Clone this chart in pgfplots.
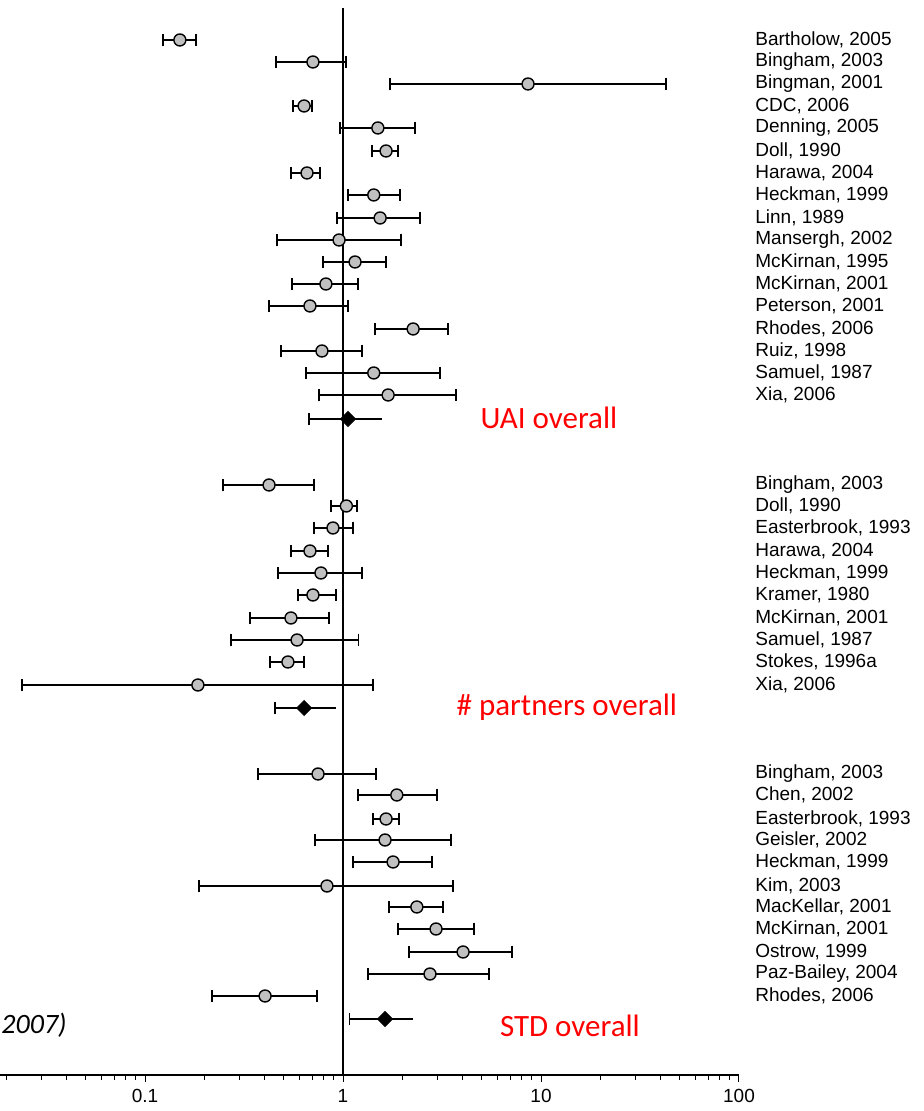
\documentclass[border=0pt]{standalone}
\usepackage{pgfplots}
\pgfplotsset{compat=1.18}
\usepackage{pgfplotstable}
\usepackage{fontspec}
\setmainfont{Liberation Sans}
\newfontfamily\calibri{Carlito}
\definecolor{markgray}{HTML}{C0C0C0}

\pgfplotstableread{
y m lo hi
-40 0.150 0.123 0.181
-62 0.705 0.459 1.035
-84 8.6 1.73 42.8
-106 0.636 0.558 0.697
-128 1.50 0.966 2.31
-151 1.65 1.40 1.90
-173 0.658 0.546 0.765
-195 1.43 1.06 1.94
-218 1.54 0.933 2.45
-240 0.955 0.464 1.96
-262 1.15 0.792 1.65
-284 0.820 0.553 1.19
-306 0.681 0.423 1.06
-329 2.26 1.45 3.39
-351 0.783 0.486 1.25
-373 1.43 0.650 3.09
-395 1.69 0.757 3.72
-485 0.423 0.248 0.714
-506 1.04 0.870 1.18
-528 0.890 0.714 1.12
-551 0.681 0.546 0.840
-573 0.774 0.470 1.25
-595 0.705 0.593 0.922
-618 0.546 0.339 0.850
-640 0.586 0.272 1.20
-662 0.527 0.428 0.636
-685 0.185 0.0239 1.42
-774 0.748 0.372 1.47
-795 1.87 1.19 2.98
-819 1.65 1.42 1.92
-840 1.63 0.722 3.51
-862 1.79 1.12 2.81
-886 0.830 0.187 3.59
-907 2.36 1.71 3.20
-929 2.95 1.90 4.59
-952 4.04 2.15 7.14
-974 2.75 1.34 5.46
-996 0.404 0.218 0.739
}\studies

\pgfplotstableread{
y m lo hi
-419 1.06 0.674 1.57
-708 0.636 0.454 0.922
-1019 1.63 1.08 2.26
}\overall

\begin{document}
\begin{tikzpicture}
\useasboundingbox (0,0) rectangle (462pt,555.5pt);
\begin{axis}[
  at={(0pt,18pt)}, anchor=south west,
  scale only axis, width=369.5pt, height=537.5pt,
  xmode=log, xmin=0.01852, xmax=100, ymin=-1075, ymax=0,
  axis x line*=bottom, axis y line*=right,
  x axis line style={-, line width=0.6pt},
  y axis line style={draw=none},
  xtick={0.1,1,10,100}, xticklabels={0.1,1,10,100},
  minor xtick={0.02,0.03,0.04,0.05,0.06,0.07,0.08,0.09,0.2,0.3,0.4,0.5,0.6,0.7,0.8,0.9,2,3,4,5,6,7,8,9,20,30,40,50,60,70,80,90},
  tick align=outside,
  major tick length=3.5pt, minor tick length=2.5pt,
  xtick style={black, line width=0.5pt},
  ytick style={draw=none},
  ytick={-40,-62,-84,-106,-128,-151,-173,-195,-218,-240,-262,-284,-306,-329,-351,-373,-395,
         -485,-506,-528,-551,-573,-595,-618,-640,-662,-685,
         -774,-795,-819,-840,-862,-886,-907,-929,-952,-974,-996},
  yticklabels={{Bartholow, 2005},{Bingham, 2003},{Bingman, 2001},{CDC, 2006},{Denning, 2005},{Doll, 1990},{Harawa, 2004},{Heckman, 1999},{Linn, 1989},{Mansergh, 2002},{McKirnan, 1995},{McKirnan, 2001},{Peterson, 2001},{Rhodes, 2006},{Ruiz, 1998},{Samuel, 1987},{Xia, 2006},
    {Bingham, 2003},{Doll, 1990},{Easterbrook, 1993},{Harawa, 2004},{Heckman, 1999},{Kramer, 1980},{McKirnan, 2001},{Samuel, 1987},{Stokes, 1996a},{Xia, 2006},
    {Bingham, 2003},{Chen, 2002},{Easterbrook, 1993},{Geisler, 2002},{Heckman, 1999},{Kim, 2003},{MacKellar, 2001},{McKirnan, 2001},{Ostrow, 1999},{Paz-Bailey, 2004},{Rhodes, 2006}},
  yticklabel style={anchor=west, inner sep=0pt, xshift=4.5pt, font=\fontsize{9.5}{11}\selectfont},
  xticklabel style={font=\fontsize{9.5}{11}\selectfont},
  clip=false,
]
\addplot[black, line width=0.6pt] coordinates {(1,-8) (1,-1075)};

\addplot[only marks, mark=*, mark size=3pt,
  mark options={fill=markgray, draw=black, line width=0.7pt},
  error bars/.cd, x dir=both, x explicit,
  error bar style={line width=0.75pt, black},
  error mark options={black, line width=0.75pt, mark size=3.2pt, rotate=90}]
  table[x=m, y=y, x error plus expr=\thisrow{hi}-\thisrow{m}, x error minus expr=\thisrow{m}-\thisrow{lo}] {\studies};

\addplot[only marks, mark=none, forget plot,
  error bars/.cd, x dir=plus, x explicit, error mark=none,
  error bar style={line width=0.75pt, black}]
  table[x=m, y=y, x error plus expr=\thisrow{hi}-\thisrow{m}] {\overall};
\addplot[only marks, mark=square*, mark size=2.65pt,
  mark options={fill=black, draw=black, rotate=45},
  error bars/.cd, x dir=minus, x explicit,
  error bar style={line width=0.75pt, black},
  error mark options={black, line width=0.75pt, mark size=3.2pt, rotate=90}]
  table[x=m, y=y, x error minus expr=\thisrow{m}-\thisrow{lo}] {\overall};

\node[text=red, font=\calibri\fontsize{15.5}{18}\selectfont] at (axis cs:10.97,-418) {UAI overall};
\node[text=red, font=\calibri\fontsize{15.5}{18}\selectfont] at (axis cs:13.5,-707) {\# partners overall};
\node[text=red, font=\calibri\fontsize{15.5}{18}\selectfont] at (axis cs:14.0,-1026) {STD overall};
\node[anchor=west, font=\calibri\itshape\fontsize{14}{16}\selectfont, inner sep=0pt] at (axis cs:0.01875,-1025) {2007)};
\end{axis}
\end{tikzpicture}
\end{document}
